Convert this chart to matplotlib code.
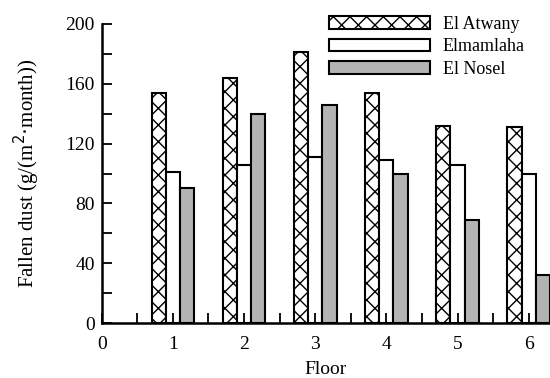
import matplotlib
matplotlib.use('Agg')
import matplotlib.pyplot as plt
import numpy as np

plt.rcParams['font.family'] = ['Liberation Serif', 'DejaVu Serif']
plt.rcParams['hatch.linewidth'] = 1.0

# Data
floors = [1, 2, 3, 4, 5, 6]
el_atwany = [154, 164, 181, 154, 132, 131]
elmamlaha = [101, 106, 111, 109, 106, 100]
el_nosel = [90, 140, 146, 100, 69, 32]

fig = plt.figure(figsize=(5.5, 3.78), dpi=100)
ax = fig.add_axes([0.185, 0.145, 0.815, 0.792])

x = np.array(floors)
w = 0.2
ax.bar(x - 0.2, el_atwany, w, color='white', edgecolor='black', hatch='xx', linewidth=1.5, label='El Atwany')
ax.bar(x, elmamlaha, w, color='white', edgecolor='black', linewidth=1.5, label='Elmamlaha')
ax.bar(x + 0.2, el_nosel, w, color='#b3b3b3', edgecolor='black', linewidth=1.5, label='El Nosel')

ax.set_xlim(0, 6.3)
ax.set_ylim(0, 200)
ax.set_xticks(range(0, 7))
ax.set_xticks(np.arange(0.5, 6.3, 1), minor=True)
ax.set_yticks(range(0, 201, 40))
ax.set_yticks(range(20, 200, 40), minor=True)
ax.tick_params(which='both', direction='in', labelsize=14, width=1.3, length=7)
ax.tick_params(axis='x', pad=9)
ax.tick_params(axis='y', pad=5)

ax.spines['top'].set_visible(False)
ax.spines['right'].set_visible(False)
ax.spines['left'].set_linewidth(1.8)
ax.spines['bottom'].set_linewidth(1.8)

ax.set_xlabel('Floor', fontsize=14, labelpad=6)
ax.set_ylabel('Fallen dust (g/(m$^2$·month))', fontsize=15, labelpad=17)

ax.legend(loc='upper right', frameon=False, fontsize=13, handlelength=5.6, handleheight=0.7,
          labelspacing=0.3, borderaxespad=0.0, handletextpad=0.7, bbox_to_anchor=(0.96, 1.05))

plt.savefig('out.png', dpi=100)
